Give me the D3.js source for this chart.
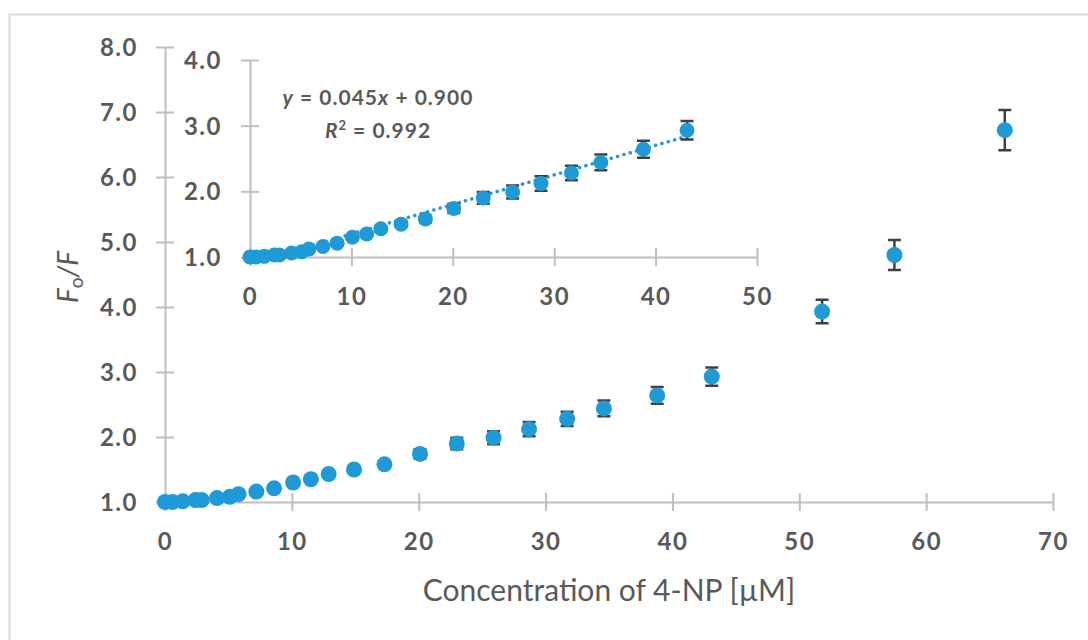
<!DOCTYPE html>
<html>
<head>
<meta charset="utf-8">
<script src="https://cdn.jsdelivr.net/npm/d3@7"></script>
<style>
  body { margin: 0; background: #fff; }
  svg text { font-family: Lato, "Open Sans", sans-serif; fill: #595959; }
</style>
</head>
<body>
<div id="svgContainer"></div>
<script>
// concentration of 4-NP (uM), Fo/F and its error
const concentration = [0, 0.6, 1.4, 2.4, 2.9, 4.1, 5.1, 5.8, 7.2, 8.6, 10.1, 11.5, 12.9,
  14.9, 17.3, 20.1, 23.0, 25.9, 28.7, 31.7, 34.6, 38.8, 43.1, 51.8, 57.5, 66.2];
const ratio = [1.00, 1.00, 1.01, 1.03, 1.03, 1.06, 1.08, 1.12, 1.16, 1.21, 1.30, 1.35, 1.43,
  1.50, 1.58, 1.74, 1.90, 1.99, 2.12, 2.28, 2.44, 2.64, 2.93, 3.93, 4.80, 6.72];
const ratioErr = [0, 0, 0.01, 0.01, 0.01, 0.01, 0.02, 0.02, 0.02, 0.03, 0.03, 0.03, 0.04,
  0.04, 0.05, 0.07, 0.09, 0.10, 0.11, 0.11, 0.12, 0.13, 0.14, 0.18, 0.23, 0.31];

const mainXTicks = [0, 10, 20, 30, 40, 50, 60, 70];
const mainYTicks = [1, 2, 3, 4, 5, 6, 7, 8];
const insetXTicks = [0, 10, 20, 30, 40, 50];
const insetYTicks = [1, 2, 3, 4];

// linear fit shown in the inset
const fitSlope = 0.045;
const fitIntercept = 0.900;
const fitR2 = 0.992;

const points = concentration.map((c, i) => ({ x: c, y: ratio[i], err: ratioErr[i] }));
const insetPoints = points.filter((d) => d.x <= 50);

const width = 1088;
const height = 640;
const blue = "#1f9ad7";
const axisGray = "#bfbfbf";

const svg = d3
  .select("#svgContainer")
  .append("svg")
  .attr("width", width)
  .attr("height", height);

svg
  .append("rect")
  .attr("x", 9.5)
  .attr("y", 14.5)
  .attr("width", 1100)
  .attr("height", 700)
  .attr("fill", "none")
  .attr("stroke", "#d9d9d9")
  .attr("stroke-width", 2);

function styleAxis(g, horizontal, labelOffset) {
  g.select(".domain").attr("stroke", axisGray).attr("stroke-width", 2);
  g.selectAll(".tick line")
    .attr("stroke", axisGray)
    .attr("stroke-width", 2)
    .attr(horizontal ? "y1" : "x1", -9)
    .attr(horizontal ? "y2" : "x2", 9);
  const t = g
    .selectAll(".tick text")
    .style("font-size", "24px")
    .style("font-weight", "bold")
    .style("letter-spacing", "1.5px")
    .attr("fill", null);
  if (horizontal) {
    t.attr("y", labelOffset + 8.5).attr("dy", null);
  } else {
    t.attr("x", -labelOffset).attr("dy", "0.36em");
  }
}

function drawScatter(g, data, x, y, r) {
  g.selectAll(".err")
    .data(data.filter((d) => d.err > 0))
    .enter()
    .append("path")
    .attr("class", "err")
    .attr("fill", "none")
    .attr("stroke", "#404040")
    .attr("stroke-width", 2.5)
    .attr("d", (d) => {
      const cx = x(d.x);
      const top = y(d.y + d.err);
      const bot = y(d.y - d.err);
      return `M${cx},${top}V${bot}M${cx - 6.5},${top}H${cx + 6.5}M${cx - 6.5},${bot}H${cx + 6.5}`;
    });

  g.selectAll(".dot")
    .data(data)
    .enter()
    .append("circle")
    .attr("class", "dot")
    .attr("cx", (d) => x(d.x))
    .attr("cy", (d) => y(d.y))
    .attr("r", r)
    .attr("fill", blue);
}

// main chart
const x = d3.scaleLinear().domain([0, 70]).range([165, 1053]);
const y = d3.scaleLinear().domain([1, 8]).range([502, 47]);

const xAxis = svg
  .append("g")
  .attr("transform", `translate(0,${y(1)})`)
  .call(d3.axisBottom(x).tickValues(mainXTicks).tickFormat(d3.format("d")).tickSizeOuter(0));
styleAxis(xAxis, true, 39);

const yAxis = svg
  .append("g")
  .attr("transform", `translate(${x(0)},0)`)
  .call(d3.axisLeft(y).tickValues(mainYTicks).tickFormat(d3.format(".1f")).tickSizeOuter(0));
styleAxis(yAxis, false, 27);

svg
  .append("text")
  .attr("x", (x(0) + x(70)) / 2)
  .attr("y", 601)
  .attr("text-anchor", "middle")
  .style("font-size", "30px")
  .text("Concentration of 4-NP [µM]");

const yTitle = svg
  .append("text")
  .attr("transform", "translate(78,277) rotate(-90)")
  .attr("text-anchor", "middle")
  .style("font-size", "28px");
yTitle.append("tspan").style("font-style", "italic").text("F");
yTitle.append("tspan").attr("baseline-shift", "-25%").style("font-size", "19px").text("o");
yTitle.append("tspan").style("font-style", "italic").text("/F");

drawScatter(svg.append("g"), points, x, y, 8);

// inset chart
const ix = d3.scaleLinear().domain([0, 50]).range([250, 757]);
const iy = d3.scaleLinear().domain([1, 4]).range([257, 60]);
const inset = svg.append("g");

const ixAxis = inset
  .append("g")
  .attr("transform", `translate(0,${iy(1)})`)
  .call(d3.axisBottom(ix).tickValues(insetXTicks).tickFormat(d3.format("d")).tickSizeOuter(0));
styleAxis(ixAxis, true, 39);

const iyAxis = inset
  .append("g")
  .attr("transform", `translate(${ix(0)},0)`)
  .call(d3.axisLeft(iy).tickValues(insetYTicks).tickFormat(d3.format(".1f")).tickSizeOuter(0));
styleAxis(iyAxis, false, 28);

inset
  .append("clipPath")
  .attr("id", "insetClip")
  .append("rect")
  .attr("x", ix(0))
  .attr("y", iy(4))
  .attr("width", ix(50) - ix(0))
  .attr("height", iy(1) - iy(4));

const fitEnd = d3.max(insetPoints, (d) => d.x);
inset
  .append("line")
  .attr("clip-path", "url(#insetClip)")
  .attr("x1", ix(0))
  .attr("y1", iy(fitIntercept))
  .attr("x2", ix(fitEnd))
  .attr("y2", iy(fitIntercept + fitSlope * fitEnd))
  .attr("stroke", blue)
  .attr("stroke-width", 3.5)
  .attr("stroke-linecap", "round")
  .attr("stroke-dasharray", "0.1 6.5");

drawScatter(inset.append("g"), insetPoints, ix, iy, 7.5);

const eq = inset
  .append("text")
  .attr("x", 378)
  .attr("y", 105)
  .attr("text-anchor", "middle")
  .style("font-size", "21px")
  .style("font-weight", "bold")
  .style("letter-spacing", "1px");
eq.append("tspan").style("font-style", "italic").text("y");
eq.append("tspan").text(` = ${fitSlope.toFixed(3)}`);
eq.append("tspan").style("font-style", "italic").text("x");
eq.append("tspan").text(` + ${fitIntercept.toFixed(3)}`);

const r2 = inset
  .append("text")
  .attr("x", 378)
  .attr("y", 138)
  .attr("text-anchor", "middle")
  .style("font-size", "21px")
  .style("font-weight", "bold")
  .style("letter-spacing", "1px");
r2.append("tspan").style("font-style", "italic").text("R");
r2.append("tspan").attr("baseline-shift", "super").style("font-size", "13px").text("2");
r2.append("tspan").text(` = ${fitR2.toFixed(3)}`);
</script>
</body>
</html>
